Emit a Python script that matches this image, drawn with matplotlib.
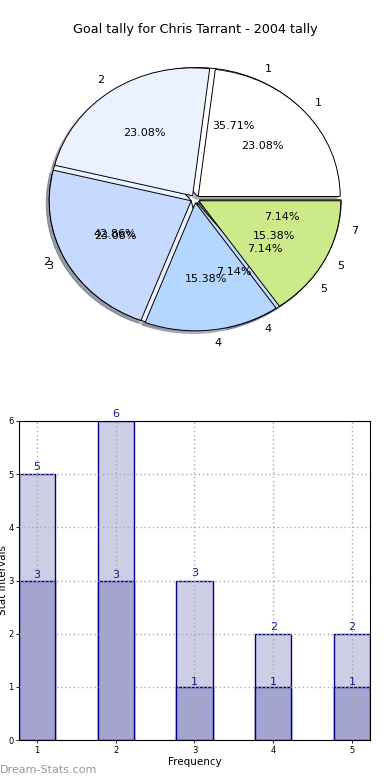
import matplotlib
matplotlib.use('Agg')
import matplotlib.pyplot as plt

title = "Goal tally for Chris Tarrant - 2004 tally"
pie1_labels = ['1', '2', '3', '4', '5']
pie1_values = [3, 3, 3, 2, 2]
pie2_labels = ['1', '2', '4', '5', '7']
pie2_values = [5, 6, 1, 1, 1]
pie_colors = ['#ffffff', '#ebf2ff', '#c6d9ff', '#b5d6ff', '#cdea8a']

bar_cats = [1, 2, 3, 4, 5]
bar_total = [5, 6, 3, 2, 2]
bar_lower = [3, 3, 1, 1, 1]
x_label = "Frequency"
y_label = "Stat Intervals"
watermark = "Dream-Stats.com"

W, H = 390, 780
fig = plt.figure(figsize=(W / 100, H / 100), dpi=100)
fig.text(0.5, 1 - 30 / H, title, ha='center', va='center', fontsize=9.2)

# ---- pie ----
Rx, Ry = 142, 128
cx, cy = 195, 199
lim = 1.25
ax = fig.add_axes([(cx - lim * Rx) / W, 1 - (cy + lim * Ry) / H,
                   2 * lim * Rx / W, 2 * lim * Ry / H])
expl = [0.03] * 5
wp = dict(edgecolor='black', linewidth=0.7)
tp = dict(fontsize=8, zorder=10)
shad = {'ox': -0.015, 'oy': -0.015, 'shade': 0.45}
w2, t2, a2 = ax.pie(pie2_values, labels=pie2_labels, colors=pie_colors, explode=expl,
                    startangle=0, counterclock=True, autopct='%.2f%%', pctdistance=0.6,
                    labeldistance=1.1, shadow=shad, wedgeprops=wp, textprops=tp)
w1, t1, a1 = ax.pie(pie1_values, labels=pie1_labels, colors=pie_colors, explode=expl,
                    startangle=0, counterclock=True, autopct='%.2f%%', pctdistance=0.6,
                    labeldistance=1.1, shadow=shad, wedgeprops=wp, textprops=tp)
for t in list(t2) + list(a2) + list(t1) + list(a1):
    t.set_zorder(20)
ax.set_aspect('auto')
ax.set_xlim(-lim, lim)
ax.set_ylim(-lim, lim)
ax.axis('off')

# ---- bars ----
ax2 = fig.add_axes([19 / W, 40 / H, 351 / W, 319 / H])
bw = 0.46
ax2.bar(bar_cats, bar_total, width=bw, color='#cdcde5', edgecolor='#000080', linewidth=1, zorder=1)
ax2.bar(bar_cats, bar_lower, width=bw, color='#a4a4d0', edgecolor='#000080', linewidth=1, zorder=1)
for x, v in zip(bar_cats, bar_total):
    ax2.text(x, v + 0.04, str(v), ha='center', va='bottom', fontsize=8, color='#1a1a8c', zorder=5)
for x, v in zip(bar_cats, bar_lower):
    ax2.text(x, v + 0.0, str(v), ha='center', va='bottom', fontsize=8, color='#1a1a8c', zorder=5)
ax2.set_xlim(1 - bw / 2, 5 + bw / 2)
ax2.set_ylim(0, 6)
ax2.set_xticks(bar_cats)
ax2.set_yticks(range(0, 7))
ax2.tick_params(labelsize=6, length=2, width=0.6, pad=2)
ax2.grid(True, linestyle=(0, (1, 2)), color='#aaaaaa', linewidth=1.0)
ax2.set_axisbelow(False)
for s in ax2.spines.values():
    s.set_zorder(6)
ax2.set_xlabel(x_label, fontsize=7.5, labelpad=2)
fig.text(3 / W, 1 - 580 / H, y_label, rotation=90, ha='center', va='center', fontsize=7.5)
fig.text(0 / W, 1 - 770 / H, watermark, ha='left', va='center', fontsize=8, color='#999999')

fig.savefig('out.png', dpi=100)
